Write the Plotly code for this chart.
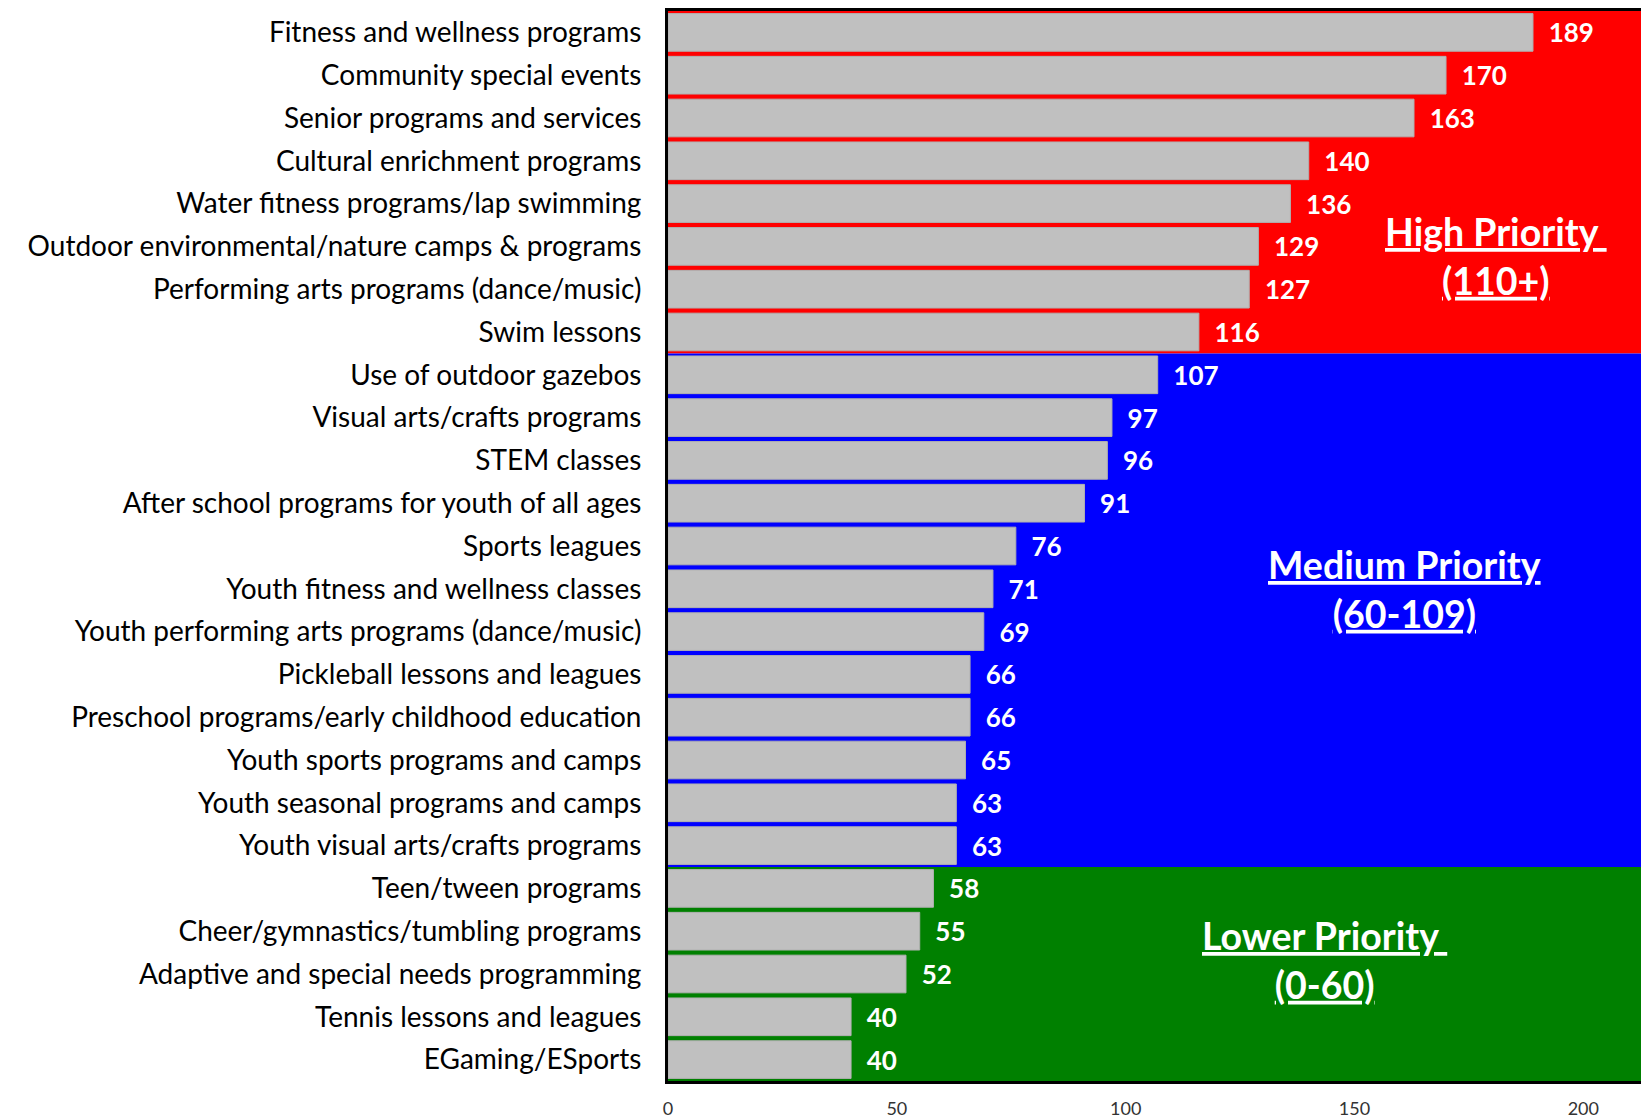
import plotly.graph_objects as go

programs = [
    "Fitness and wellness programs",
    "Community special events",
    "Senior programs and services",
    "Cultural enrichment programs",
    "Water fitness programs/lap swimming",
    "Outdoor environmental/nature camps & programs",
    "Performing arts programs (dance/music)",
    "Swim lessons",
    "Use of outdoor gazebos",
    "Visual arts/crafts programs",
    "STEM classes",
    "After school programs for youth of all ages",
    "Sports leagues",
    "Youth fitness and wellness classes",
    "Youth performing arts programs (dance/music)",
    "Pickleball lessons and leagues",
    "Preschool programs/early childhood education",
    "Youth sports programs and camps",
    "Youth seasonal programs and camps",
    "Youth visual arts/crafts programs",
    "Teen/tween programs",
    "Cheer/gymnastics/tumbling programs",
    "Adaptive and special needs programming",
    "Tennis lessons and leagues",
    "EGaming/ESports",
]
scores = [189, 170, 163, 140, 136, 129, 127, 116, 107, 97, 96, 91, 76, 71, 69,
          66, 66, 65, 63, 63, 58, 55, 52, 40, 40]

# priority bands: (first row, last row, colour, label lines)
bands = [
    (0, 7, "#FF0000", "High Priority ", "(110+)"),
    (8, 19, "#0000FF", "Medium Priority", "(60-109)"),
    (20, 24, "#008000", "Lower Priority ", "(0-60)"),
]
label_pos = [(181, 5.22), (161, 13.01), (143.5, 21.68)]

FONT = "Lato"

fig = go.Figure()
fig.add_trace(go.Bar(
    x=scores,
    y=programs,
    orientation="h",
    marker=dict(color="#C0C0C0", line=dict(color="#B0B0B0", width=1)),
    text=["\u00a0\u00a0" + str(v) for v in scores],
    textposition="outside",
    textfont=dict(family=FONT, size=26, color="white", weight="bold"),
    cliponaxis=False,
    hoverinfo="x+y",
))

for (start, end, color, l1, l2), (lx, ly) in zip(bands, label_pos):
    fig.add_shape(
        type="rect", xref="paper", yref="y",
        x0=0, x1=1, y0=start - 0.5, y1=end + 0.5,
        fillcolor=color, line=dict(width=0), layer="below",
    )
    fig.add_annotation(
        x=lx, y=ly, xref="x", yref="y",
        text=f"<b><u>{l1}</u></b><br><b><u>{l2}</u></b>",
        showarrow=False,
        font=dict(family=FONT, size=37.5, color="white"),
        align="center",
    )

fig.update_layout(
    width=1641,
    height=1120,
    margin=dict(l=668, r=0, t=11, b=39),
    paper_bgcolor="white",
    plot_bgcolor="white",
    bargap=0.12,
    showlegend=False,
    font=dict(family=FONT, color="black"),
)
fig.update_xaxes(
    range=[0, 212.6],
    tickvals=[0, 50, 100, 150, 200],
    showgrid=False,
    zeroline=False,
    showline=True,
    mirror=True,
    linecolor="black",
    linewidth=3,
    tickfont=dict(family=FONT, size=18, color="#333333"),
    ticklabelstandoff=9,
    automargin=False,
)
fig.update_yaxes(
    categoryorder="array",
    categoryarray=programs,
    autorange="reversed",
    showgrid=False,
    showline=True,
    linecolor="black",
    linewidth=3,
    tickfont=dict(family=FONT, size=28, color="black"),
    ticklabelstandoff=18,
    automargin=False,
)

fig.write_html(
    "out.html",
    config={"displayModeBar": False},
    post_script="document.body.style.margin='0';document.body.style.overflow='hidden';",
)
